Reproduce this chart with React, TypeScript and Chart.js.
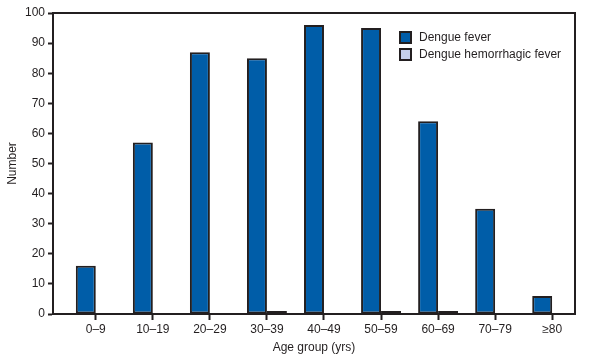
import React, { useEffect, useRef } from "react";
import { Chart, registerables } from "chart.js";

Chart.register(...registerables);

const CATEGORIES = ["0–9", "10–19", "20–29", "30–39", "40–49", "50–59", "60–69", "70–79", "≥80"];
const DENGUE_FEVER = [16, 57, 87, 85, 96, 95, 64, 35, 6];
const DENGUE_HEMORRHAGIC = [0, 0, 0, 1, 0, 1, 1, 0, 0];
const Y_TICKS = [0, 10, 20, 30, 40, 50, 60, 70, 80, 90, 100];

const INK = "#231f20";
const BLUE = "#005da8";
const LIGHT = "#c5d0ea";
const FONT = "'Liberation Sans', Arial, sans-serif";

const legendPlugin = {
  id: "insideLegend",
  afterDraw(chart: any) {
    const { ctx, chartArea } = chart;
    ctx.save();
    // frame top & right
    ctx.strokeStyle = INK;
    ctx.lineWidth = 2;
    ctx.beginPath();
    ctx.moveTo(chartArea.left, chartArea.top);
    ctx.lineTo(chartArea.right, chartArea.top);
    ctx.lineTo(chartArea.right, chartArea.bottom);
    ctx.stroke();
    const items = chart.data.datasets.map((d: any) => ({ label: d.label, color: d.backgroundColor }));
    const x0 = 400;
    let y0 = 32;
    ctx.font = `12px ${FONT}`;
    ctx.textBaseline = "middle";
    ctx.textAlign = "left";
    items.forEach((it: any) => {
      ctx.fillStyle = it.color;
      ctx.fillRect(x0, y0, 11, 11);
      ctx.strokeStyle = INK;
      ctx.lineWidth = 2;
      ctx.strokeRect(x0, y0, 11, 11);
      ctx.fillStyle = INK;
      ctx.fillText(it.label, x0 + 19, y0 + 6);
      y0 += 17;
    });
    ctx.restore();
  },
};

export default function App() {
  const ref = useRef<HTMLCanvasElement>(null);
  useEffect(() => {
    document.body.style.margin = "0";
    Chart.defaults.font.family = FONT;
    Chart.defaults.font.size = 12;
    Chart.defaults.color = INK;
    const chart = new Chart(ref.current!, {
      type: "bar",
      data: {
        datasets: [
          {
            label: "Dengue fever",
            data: DENGUE_FEVER.map((v, i) => ({ x: i, y: v })),
            backgroundColor: BLUE,
            borderColor: INK,
            borderWidth: 2,
            borderSkipped: false,
          },
          {
            label: "Dengue hemorrhagic fever",
            data: DENGUE_HEMORRHAGIC.map((v, i) => ({ x: i, y: v })),
            backgroundColor: LIGHT,
            borderColor: INK,
            borderWidth: 1.5,
            borderSkipped: false,
          },
        ],
      },
      options: {
        animation: false,
        responsive: false,
        maintainAspectRatio: false,
        layout: { padding: { top: 13, right: 17, left: 0, bottom: 0 } },
        datasets: { bar: { categoryPercentage: 0.7, barPercentage: 1 } },
        plugins: { legend: { display: false }, tooltip: { enabled: false } },
        scales: {
          x: {
            type: "linear",
            offset: false,
            min: -0.75,
            max: 8.4,
            afterBuildTicks: (s: any) => {
              s.ticks = CATEGORIES.map((_, i) => ({ value: i }));
            },
            afterFit: (s: any) => {
              s.height = 45;
            },
            ticks: {
              autoSkip: false,
              maxRotation: 0,
              padding: 2,
              callback: (v: any) => CATEGORIES[v as number] ?? "",
              font: { size: 12 },
            },
            grid: { offset: false, drawOnChartArea: false, drawTicks: true, tickLength: 6, tickWidth: 2, color: INK },
            border: { display: true, width: 2, color: INK },
            title: { display: true, text: "Age group (yrs)", padding: { top: 0, bottom: 4 }, font: { size: 12 } },
          },
          y: {
            min: 0,
            max: 100,
            afterBuildTicks: (s: any) => {
              s.ticks = Y_TICKS.map((v) => ({ value: v }));
            },
            afterFit: (s: any) => {
              s.width = 53;
            },
            ticks: { padding: 3, font: { size: 12 } },
            grid: { drawOnChartArea: false, drawTicks: true, tickLength: 5, tickWidth: 2, color: INK },
            border: { display: true, width: 2, color: INK },
            title: { display: true, text: "Number", padding: { top: 5, bottom: 0 }, font: { size: 12 } },
          },
        },
      },
      plugins: [legendPlugin],
    });
    return () => chart.destroy();
  }, []);
  return (
    <div style={{ width: 592, height: 359 }}>
      <canvas ref={ref} width={592} height={359} style={{ width: 592, height: 359 }} />
    </div>
  );
}
